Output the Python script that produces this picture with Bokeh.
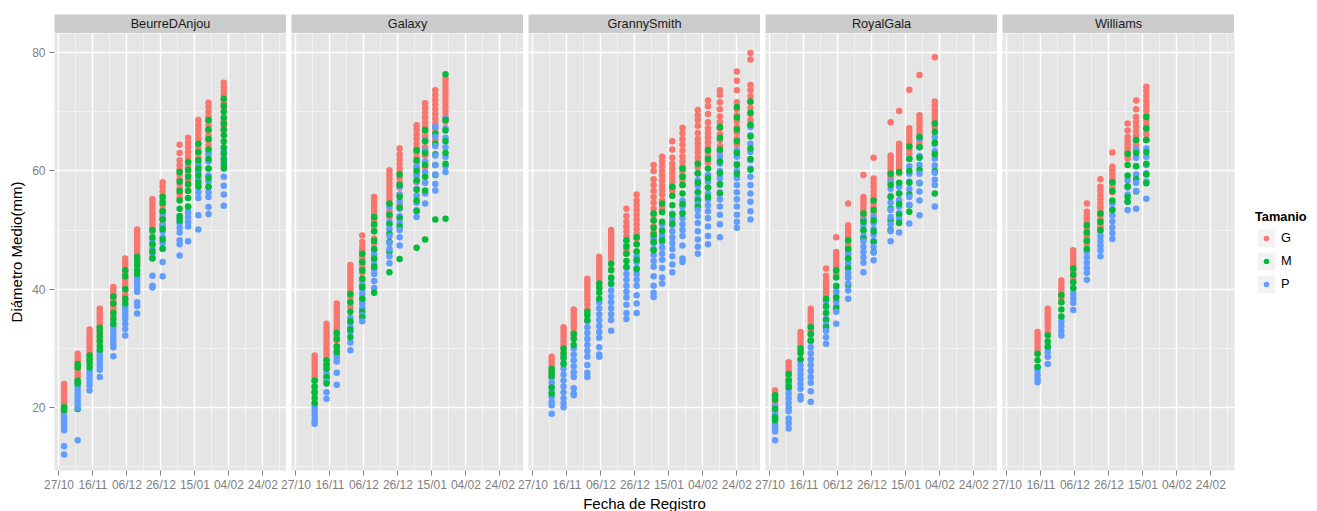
import pandas as pd
from bokeh.plotting import figure
from bokeh.layouts import row, column
from bokeh.models import (Range1d, FixedTicker, DatetimeTickFormatter, Legend,
                          LegendItem, Label, ColumnDataSource)
from bokeh.core.properties import field
from bokeh.embed import file_html
from bokeh.resources import INLINE

# ---------------- data ----------------
VARIETIES = ["BeurreDAnjou", "Galaxy", "GrannySmith", "RoyalGala", "Williams"]
SIZES = ["G", "M", "P"]
COLORS = {"G": "#F8766D", "M": "#00BA38", "P": "#619CFF"}

TICK_DATES = ["2012-10-27", "2012-11-16", "2012-12-06", "2012-12-26",
              "2013-01-15", "2013-02-04", "2013-02-24"]
MINOR_DATES = ["2012-11-06", "2012-11-26", "2012-12-16", "2013-01-05",
               "2013-01-25", "2013-02-14", "2013-03-06"]
X_LIMITS = ["2012-10-24 08:40", "2013-03-09 21:30"]
Y_TICKS = [20, 40, 60, 80]
Y_MINOR = [10, 30, 50, 70]
Y_LIMITS = [9.4, 83.2]

DATES_BEURRE = ["2012-10-30", "2012-11-07", "2012-11-14", "2012-11-20", "2012-11-28",
                "2012-12-05", "2012-12-12", "2012-12-21", "2012-12-27", "2013-01-06",
                "2013-01-11", "2013-01-17", "2013-01-23", "2013-02-01"]
G_BEURRE = [
    [24, 23.3, 22.8, 22.2, 21.6, 21, 20.4, 19.2],
    [29.1, 28.4, 27.8, 27.1, 26.5, 25.9, 25.3, 24.6],
    [33.2, 32.6, 32, 31.4, 30.8, 30.2, 29.6, 29, 28],
    [36.7, 36.1, 35.5, 34.9, 34.3, 33.7, 33.1, 32.3, 31.5],
    [40.4, 39.8, 39.2, 38.6, 38, 37.4, 36.8, 36.2, 35.4],
    [45.2, 44.6, 44, 43.4, 42.8, 42.2, 41.6, 41, 40.4, 39.8, 39, 38.2],
    [50.1, 49.5, 48.9, 48.3, 47.7, 47.1, 46.5, 45.9, 45.3, 44.3],
    [55.2, 54.6, 54, 53.4, 52.8, 52.2, 51.6, 51, 50.4, 49.7],
    [58.1, 57.4, 56.6, 55.8, 55, 54.2, 53.4, 52.2, 51, 50.5],
    [64.4, 63, 61.8, 61, 60.2, 59.4, 58.6, 57.8, 57, 56.2, 55.4],
    [65.6, 64.8, 64, 63.2, 62.4, 61.6, 60.8, 60, 59.2, 58.4, 57.6, 56.7],
    [68.6, 67.8, 67, 66.2, 65.4, 64.6, 63.8, 63, 62.2, 61.4, 60.6, 59.8, 58.4],
    [71.5, 70.8, 70, 69.2, 68.4, 67.6, 66.8, 66, 65.2, 64.4, 63.6, 62.9],
    [74.9, 74.2, 73.5, 72.8, 72.1, 71.4, 70.7, 68.4, 67.6, 66.9],
]
M_BEURRE = [
    [20.1, 19.6, 19.9],
    [27.4, 26.8, 24.6, 24.1, 19.8],
    [28.8, 28.2, 27.5, 26.8],
    [33.5, 32.8, 32, 31.2, 30.4, 29.8],
    [38.8, 37.6, 36, 35, 34.2],
    [43.2, 42.2, 40, 38.4, 37.6],
    [45.5, 44.8, 44, 43.2, 42.6],
    [50, 48.8, 47.6, 46.4, 45.2],
    [55.6, 54.6, 53.2, 51.8, 50.2, 48.4, 46.9],
    [59.8, 58.2, 56.6, 55, 53.6, 52.4, 51.6],
    [61.5, 60.2, 59, 57.8, 56.6, 55.4, 54],
    [64.6, 63.2, 61.8, 60.4, 59.2, 58, 57.3],
    [68.6, 67, 65.4, 63.6, 62, 60.4, 58.8, 57.3],
    [72.2, 71, 70, 69, 68, 67, 66, 65, 64, 63, 62, 61, 60.4],
]
P_BEURRE = [
    [18.6, 18, 17.4, 16.8, 16.2, 13.5, 12.1],
    [24.2, 23.6, 23, 22.4, 21.8, 21.2, 20.6, 20, 14.5],
    [26.2, 25.6, 25, 24.4, 23.8, 22.9],
    [29.4, 28.8, 28.2, 27.6, 27, 26.4, 25.2],
    [33.8, 33.2, 32.6, 32, 31.4, 30.8, 30.2, 28.7],
    [37.4, 36.8, 36.2, 35.6, 35, 34.2, 33.3, 32.2],
    [42, 41.4, 40.8, 40.2, 39.6, 37.8, 37.2, 35.9],
    [48.4, 47.6, 46.8, 46, 45.3, 42.3, 40.6, 40.3],
    [52.8, 51.8, 50.8, 49.8, 48.8, 47.8, 46.8, 44.6, 42.2],
    [52, 51.2, 50.4, 49.6, 48.3, 47.6, 45.7],
    [53.8, 53, 52.2, 51.4, 50.6, 48.1],
    [61, 59.8, 58.6, 57.4, 56.4, 55.4, 52.5, 50.1],
    [62.8, 61.6, 60.4, 59.2, 58.2, 57.2, 56.4, 55.6, 53.9, 52.7],
    [63.6, 62.8, 62, 61.4, 59, 57.5, 56, 54.1],
]

DATES_GALAXY = ["2012-11-07", "2012-11-14", "2012-11-20", "2012-11-28", "2012-12-05",
                "2012-12-12", "2012-12-21", "2012-12-27", "2013-01-06", "2013-01-11",
                "2013-01-17", "2013-01-23"]
G_GALAXY = [
    [28.8, 28.2, 27.6, 27, 26.4, 25.8, 25.2, 24.5, 23.5, 22.8, 22.4],
    [34.2, 33.6, 33, 32.4, 31.8, 31.2, 30.6, 30, 29.4, 28.8, 28.2],
    [37.6, 37, 36.4, 35.8, 35.2, 34.6, 34, 33.4, 32.8, 32.2, 31.4],
    [44.1, 43.5, 42.9, 42.3, 41.7, 41.1, 40.5, 39.9, 39.3, 38.6, 37.8, 37],
    [49.1, 48, 47.2, 46.6, 46, 45.4, 44.8, 44.2, 43.6, 42.8],
    [55.6, 55, 54.4, 53.8, 53.2, 52.6, 52, 51.4, 50.6, 49.8, 48.6, 47.7],
    [60.1, 59.4, 58.7, 58, 57.3, 56.6, 55.9, 55.2, 54.5, 53.2, 52.2],
    [63.8, 62.8, 62, 61.2, 60.4, 59.6, 58.8, 58, 57.2, 56, 54.2],
    [67.7, 67, 66.2, 65.4, 64.6, 63.8, 63, 62.2, 61.4, 60.4, 59.2, 58.1],
    [71.4, 70.6, 69.8, 69, 68.2, 67.4, 66.6, 65.8, 65, 64, 62.6, 60.7],
    [73.6, 72.8, 72, 71.2, 70.4, 69.6, 68.8, 68, 67.2, 66.4, 65.2],
    [75.6, 74.9, 74.2, 73.5, 72.8, 72.1, 71.4, 70.7, 70, 69.2, 68.3],
]
M_GALAXY = [
    [24.6, 23.6, 22.6, 21.6, 20.8],
    [28, 27.3, 26.6, 25.2, 24.1],
    [32.6, 31.6, 30.4, 29.4],
    [39.2, 37.8, 36.2, 34.6, 33.2, 31.9],
    [46, 44.6, 43.2, 41.8, 40.4, 38.4, 36.2, 35.3],
    [52.2, 51, 49.8, 48.2, 46.8, 45.2, 43.8, 39.4],
    [54.5, 52.6, 51, 49.4, 48, 46.4, 42.9],
    [59.4, 57.6, 55.6, 53.8, 52, 50.6, 45.1],
    [63.5, 61.8, 60, 58.4, 56.8, 55, 53.2, 47],
    [66.9, 65, 63, 61, 59, 56.7, 48.4],
    [66.3, 64.6, 62.8, 61, 59.3, 51.8],
    [76.3, 68.6, 66.8, 65, 63, 61.2, 51.9],
]
P_GALAXY = [
    [20.6, 20, 19.4, 18.8, 18.2, 17.6, 17.3],
    [27.3, 26.6, 25.8, 25, 24.4, 22.6, 21.5],
    [30.2, 29.6, 29, 28.4, 27.8, 25.9, 23.9],
    [35.2, 34.4, 33.6, 32.8, 31, 29.7],
    [41.6, 40.8, 40, 39.2, 38.4, 37.6, 36.8, 35.6, 34.6],
    [46.6, 45.8, 45, 44.2, 43.4, 42.6, 41.4, 40.2],
    [53.9, 52.6, 51.4, 50.2, 49, 47.8, 46.8, 45.6, 44.4],
    [57.3, 56, 54.8, 53.6, 52.4, 51.2, 50, 48.8, 47.4],
    [60.7, 59.4, 58.2, 57, 55.8, 54.6, 53.4, 52.2],
    [65.2, 63.4, 61.6, 59.8, 58, 56.2, 54.5],
    [67.4, 65.8, 64.2, 62.6, 61, 59.4, 57.8, 56.7],
    [68.8, 67.2, 65.6, 64, 62.4, 60.8, 59.8],
]

DATES_GRANNY = ["2012-11-07", "2012-11-14", "2012-11-20", "2012-11-28", "2012-12-05",
                "2012-12-12", "2012-12-21", "2012-12-27", "2013-01-06", "2013-01-11",
                "2013-01-17", "2013-01-23", "2013-02-01", "2013-02-07", "2013-02-14",
                "2013-02-24", "2013-03-04"]
G_GRANNY = [
    [28.6, 28, 27.4, 26.8, 26.2, 25.4],
    [33.6, 33, 32.4, 31.8, 31.2, 30.6, 30, 29.2],
    [36.6, 36, 35.4, 34.8, 34.2, 33.6, 32.8, 32],
    [41.8, 41.2, 40.6, 40, 39.4, 38.8, 38.2, 37.4, 36.6],
    [45.5, 44.9, 44.3, 43.7, 43.1, 42.5, 41.9, 41.2, 40.4],
    [50, 49.4, 48.8, 48.2, 47.6, 47, 46.4, 45.8, 45.2, 44.4, 43.4],
    [53.6, 52.4, 51.4, 50.6, 49.8, 49, 48.2, 47.4, 46.6, 46],
    [56, 55, 54.2, 53.4, 52.6, 51.8, 51, 50.2, 49.4, 48.6, 47.6, 46.4],
    [61, 60, 58.6, 57.6, 56.6, 55.6, 54.6, 53.6, 52.6, 51.6, 50.6, 49.6, 48.4],
    [62.4, 61.6, 60.8, 60, 59.2, 58.4, 57.6, 56.8, 56, 55, 54, 53.4],
    [65, 63.6, 62.2, 61.2, 60.4, 59.6, 58.8, 58, 57.2, 56.7],
    [67.3, 66.4, 65.4, 64.4, 63.4, 62.4, 61.6, 60.8, 60, 59.2, 58.4, 57.6],
    [70.3, 69.4, 68.6, 67.6, 66.4, 65.4, 64.6, 63.8, 63, 62.2, 61.4, 60.6, 59.6],
    [71.9, 70.9, 69.6, 68.2, 67.2, 66.4, 65.6, 64.8, 64, 63.2, 62.4, 61.4],
    [73.6, 72.8, 71.6, 70.4, 69.2, 68.2, 67.2, 66.2, 65.2, 64.2, 63],
    [76.8, 75.2, 73.6, 71.6, 70.4, 69.4, 68.4, 67.4, 66.4, 65.4, 64.4, 63.2],
    [79.9, 78.8, 74.5, 73.6, 72.6, 71.6, 70.6, 69.6, 68.6, 67.6],
]
M_GRANNY = [
    [26.6, 26, 25.4, 23.4, 22.4],
    [30, 29.2, 28.4, 27.4],
    [32.5, 31.6, 30.6],
    [36.2, 35.6, 34.8],
    [41, 40.2, 39.4, 38.4],
    [44.3, 43.2, 42, 41],
    [48.3, 47.2, 46, 44.8, 43.8],
    [48.8, 47.6, 46.4, 45, 43.4],
    [52.8, 51.6, 50.4, 49.2, 48, 46.6],
    [54.5, 53, 51.4, 49.8, 48.3],
    [57.3, 55.8, 54.2, 52.6, 51.1],
    [60.4, 59, 57.6, 56.2, 54.4, 52.8],
    [61.2, 59.6, 58, 56.4, 55, 53.9],
    [63.5, 62, 60.4, 58.8, 57.2, 55.6],
    [67.4, 65.6, 63.6, 61.6, 59.6, 57.8, 56.2],
    [70.8, 69, 67, 65, 63, 61, 59.5],
    [71.7, 69.8, 67.8, 65.8, 63.8, 62, 60.2],
]
P_GRANNY = [
    [25, 24.2, 23.4, 22.6, 21.8, 21, 20.4, 19],
    [28.6, 27.6, 26.6, 25.6, 24.6, 23.6, 22.6, 21.6, 20.8, 20.1],
    [30, 29, 28, 27, 26, 25.2, 23.3, 22.4, 22.1],
    [34.6, 33.6, 32.6, 31.6, 30.6, 29.6, 28.6, 27.2, 25.9, 25.2],
    [37.8, 36.8, 35.8, 34.8, 33.8, 32.8, 31.8, 30.2, 29, 28.6],
    [41.8, 40.8, 39.8, 38.8, 37.8, 36.8, 35.8, 34.8, 33],
    [43.6, 42.6, 41.6, 40.6, 39.6, 38.6, 37.4, 36, 35],
    [45.6, 44.6, 43.6, 42.6, 41.6, 40.6, 39, 37.6, 36],
    [48.8, 47.8, 46.8, 45.8, 44.8, 43.8, 42.2, 40.6, 39.4, 38.7],
    [51, 50, 49, 48, 47, 46, 45, 43.6, 42, 41],
    [52.8, 51.8, 50.8, 49.8, 48.8, 47.8, 46.8, 45.6, 44.2, 42.9],
    [55, 54, 53, 52, 51, 50, 49, 47.4, 45.2, 44.6],
    [59.5, 58.4, 57.4, 56.4, 55.4, 54.4, 53.4, 52.4, 51.2, 49.8, 48.4, 47.2, 46],
    [59.3, 58.2, 57.2, 56.2, 55.2, 54.2, 53.2, 52, 50.6, 49, 47.6],
    [63.5, 62.4, 61.2, 60, 58.8, 57.6, 56.4, 55.2, 54, 52.6, 51, 48.8],
    [63.5, 62.4, 61.2, 60, 58.8, 57.6, 56.4, 55.2, 54, 52.6, 51.4, 50.4],
    [67.4, 66, 64.6, 63.2, 61.8, 60.4, 59, 57.6, 56.2, 54.8, 53.2, 51.8],
]

DATES_ROYAL = ["2012-10-30", "2012-11-07", "2012-11-14", "2012-11-20", "2012-11-29",
               "2012-12-05", "2012-12-12", "2012-12-21", "2012-12-27", "2013-01-06",
               "2013-01-11", "2013-01-17", "2013-01-23", "2013-02-01"]
G_ROYAL = [
    [22.9, 22.3, 21.7, 21.1, 20.5, 20],
    [27.7, 27.1, 26.5, 25.9, 25.3, 24.7, 24.1],
    [32.8, 32.2, 31.6, 31, 30.4, 29.6],
    [36.7, 36.1, 35.5, 34.9, 34.3, 33.7, 33.1, 32.5],
    [43.5, 42.3, 41.5, 40.9, 40.3, 39.7, 39.1, 38.4],
    [48.8, 46.3, 45.7, 45.1, 44.5, 43.9, 43.3, 42.6],
    [54.5, 50.8, 50.2, 49.6, 49, 48.4, 47.8, 47.2, 46.6, 46],
    [59.3, 55.6, 55, 54.4, 53.8, 53.2, 52.4, 51.7],
    [62.2, 58.7, 58, 57.3, 56.6, 55.9, 55.2, 54.5, 53.8, 52.9],
    [68.2, 62.6, 62, 61.4, 60.8, 60.2, 59.6, 59, 58.4],
    [70.1, 64.6, 64, 63.4, 62.8, 62.2, 61.6, 61, 60.4, 59.6],
    [73.7, 67.2, 66.6, 66, 65.4, 64.8, 64.2, 63.6, 62.9],
    [76.2, 69.4, 68.8, 68.2, 67.6, 67, 66.4, 65.8, 65.2, 64.6, 64.1],
    [79.2, 71.7, 71, 70.3, 69.6, 68.9, 68.2, 67.4],
]
M_ROYAL = [
    [22.1, 21.4, 19.8, 18.4, 17.9],
    [25.7, 24.6, 23.5],
    [30, 29.2, 28.2],
    [33.6, 32.4, 31.4],
    [38.4, 37.2, 36, 34.8, 33.6],
    [43.2, 42, 40.6, 38.6, 36.8],
    [48.3, 46.8, 45.2, 43.6, 42, 40.7],
    [52.8, 51.4, 50, 48.6],
    [55, 53.4, 51.6, 49.8, 48, 46.3],
    [59.5, 57.6, 55.6, 53.6, 51.6, 50],
    [59.8, 58, 56.2, 54.4, 52.6, 51.2],
    [64.1, 62, 60, 58, 56, 54.2, 53.1],
    [65.7, 64, 62.2, 60.2, 57.9],
    [68, 66.6, 64.8, 62.8, 60, 56.2],
]
P_ROYAL = [
    [20.3, 19.6, 18.8, 18, 17.2, 16.6, 16, 14.5],
    [24, 23.2, 22.4, 21.6, 20.8, 20, 19.4, 18.2, 17.4, 16.5],
    [28, 27.2, 26.4, 25.6, 24.8, 24, 23.2, 22, 21.4],
    [31.2, 30.2, 29.2, 28.2, 27.2, 26.2, 25.2, 24.2, 22.8, 21],
    [38, 37, 36, 35, 34, 33, 31.9, 30.8],
    [40.4, 39.6, 38.8, 38, 37.2, 36.2, 34.2],
    [46, 45.2, 44.4, 43.6, 42.8, 42, 41, 39.8, 38.4],
    [51.7, 50.8, 49.9, 49, 48.1, 47.2, 46.3, 45.4, 44.5, 42.9],
    [52.2, 51.2, 50.2, 49.2, 48.2, 47.2, 46.2, 44.9],
    [58.2, 57, 55.8, 54.6, 53.4, 52.2, 51, 49.8, 48.1],
    [57.3, 56.2, 55.1, 54, 52.9, 51.8, 49.6],
    [62.1, 60.8, 59.5, 58.2, 56.9, 55.6, 54.3, 51.1],
    [65.5, 64, 62.5, 61, 59.5, 58, 56.5, 55, 52.5],
    [65.7, 64.5, 63.3, 62.1, 60.9, 59.7, 58.5, 57.6, 54],
]

DATES_WILLIAMS = ["2012-11-14", "2012-11-20", "2012-11-28", "2012-12-05", "2012-12-13",
                  "2012-12-21", "2012-12-28", "2013-01-06", "2013-01-11", "2013-01-17"]
G_WILLIAMS = [
    [32.8, 32.2, 31.6, 31, 30.4, 29.8, 29.1],
    [36.7, 36.1, 35.5, 34.9, 34.3, 33.6, 32.8],
    [41.5, 40.9, 40.3, 39.7, 39.1, 38.5, 37.8],
    [46.6, 46, 45.4, 44.8, 44.2, 43.6, 43, 42.4, 41.6],
    [54.5, 53.1, 52.5, 51.9, 51.3, 50.7, 50.1, 49.5, 48.9, 48.3, 47.7],
    [58.6, 57.3, 56.6, 55.9, 55.2, 54.5, 53.8, 53.1, 52.4, 51.7, 51, 50.5],
    [63.1, 60.7, 60.1, 59.5, 58.9, 58.3, 57.7, 57.1, 56.4],
    [68, 66.8, 65.7, 65.1, 64.5, 63.9, 63.3, 62.7, 62.1],
    [71.9, 70.4, 69.1, 68.3, 67.5, 66.7, 65.9, 65.1, 64.3, 63.5],
    [74.2, 73.4, 72.6, 71.8, 71, 70.2, 69.4, 68.6, 67.8, 67, 66.2, 65.2],
]
M_WILLIAMS = [
    [29.1, 28, 26.9],
    [32.2, 31.2, 30.3],
    [39, 37.8, 36.6, 35.4],
    [43.5, 42.4, 41.2, 40.2],
    [50.8, 49.6, 48.2, 46.8],
    [52.8, 51.4, 50],
    [58.1, 56.6, 55, 53.4],
    [62.9, 61, 59.2, 57.4, 55.6, 54.8],
    [65.2, 63, 60.8, 58.6, 56.5],
    [69.1, 67.2, 65.2, 63.2, 61.2, 59.4, 57.9],
]
P_WILLIAMS = [
    [26.9, 26.2, 25.5, 24.8, 24.3],
    [30.2, 29.4, 28.6, 27.4],
    [35.3, 34.5, 33.7, 32.9, 32.2],
    [40.1, 39.3, 38.5, 37.7, 36.5],
    [46.3, 45.4, 44.5, 43.6, 42.8, 41.6],
    [49.8, 49, 48.2, 47.4, 46.6, 45.6],
    [54.5, 53.5, 52.5, 51.5, 50.5, 49.5, 48.5],
    [58.4, 57.2, 56, 54.8, 53.4],
    [63.6, 62.2, 60.8, 59.4, 58, 56.6, 53.6],
    [65.2, 63.8, 62.4, 61, 59.6, 58.2, 55.3],
]

PANELS = [
    (DATES_BEURRE, G_BEURRE, M_BEURRE, P_BEURRE),
    (DATES_GALAXY, G_GALAXY, M_GALAXY, P_GALAXY),
    (DATES_GRANNY, G_GRANNY, M_GRANNY, P_GRANNY),
    (DATES_ROYAL, G_ROYAL, M_ROYAL, P_ROYAL),
    (DATES_WILLIAMS, G_WILLIAMS, M_WILLIAMS, P_WILLIAMS),
]

# ---------------- styling ----------------
FONT = "Liberation Sans"
PANEL_BG = "#E5E5E5"
STRIP_BG = "#CCCCCC"
MINOR_GRID = "#F2F2F2"
AXIS_GREY = "#7F7F7F"
FRAME_W, FRAME_H = 232, 437
LEFT_FIRST, LEFT_OTHER, OVERLAP = 54, 16, -11


def ms(s):
    return pd.Timestamp(s).value / 1e6


x_ticker = FixedTicker(ticks=[ms(t) for t in TICK_DATES],
                       minor_ticks=[ms(t) for t in MINOR_DATES])
y_ticker = FixedTicker(ticks=Y_TICKS, minor_ticks=Y_MINOR)
x_fmt = DatetimeTickFormatter(days="%d/%m", months="%d/%m", years="%d/%m",
                              hours="%d/%m", minutes="%d/%m", seconds="%d/%m",
                              milliseconds="%d/%m", microseconds="%d/%m", minsec="%d/%m",
                              hourmin="%d/%m")


def class_points(dates, lists):
    xs, ys = [], []
    for d, lst in zip(dates, lists):
        for v in lst:
            xs.append(pd.Timestamp(d)); ys.append(v)
    return xs, ys


def build_source(dates, g, m, p):
    # large-size points first, then small and medium interleaved on top
    xs, ys, cs = [], [], []
    gx, gy = class_points(dates, g)
    xs += gx; ys += gy; cs += [COLORS["G"]] * len(gx)
    for d, ml, pl in zip(dates, m, p):
        n = max(len(ml), len(pl))
        for i in range(n):
            for lst, key in ((pl, "P"), (ml, "M")):
                if i < len(lst):
                    xs.append(pd.Timestamp(d)); ys.append(lst[i]); cs.append(COLORS[key])
    return ColumnDataSource(dict(x=xs, y=ys, c=cs))


def style_axis(ax):
    ax.axis_line_color = None
    ax.major_tick_line_color = AXIS_GREY
    ax.major_tick_line_width = 1
    ax.major_tick_in = 0
    ax.major_tick_out = 5
    ax.minor_tick_line_color = None
    ax.major_label_text_color = AXIS_GREY
    ax.major_label_text_font = FONT
    ax.major_label_text_font_size = "12px"
    ax.axis_label_text_font = FONT
    ax.axis_label_text_font_size = "15px"
    ax.axis_label_text_font_style = "normal"
    ax.axis_label_text_color = "#000000"


cols = []
for k, (name, (dates, g, m, p)) in enumerate(zip(VARIETIES, PANELS)):
    left = LEFT_FIRST if k == 0 else LEFT_OTHER

    strip = figure(frame_width=FRAME_W, frame_height=19, x_range=Range1d(0, 1),
                   y_range=Range1d(0, 1), output_backend="svg", toolbar_location=None,
                   title=None, x_axis_location=None, y_axis_location=None,
                   min_border_left=left, min_border_right=0, min_border_top=14,
                   min_border_bottom=0, background_fill_color=STRIP_BG,
                   outline_line_color=None)
    strip.grid.visible = False
    if k > 0:
        strip.border_fill_alpha = 0
    strip.add_layout(Label(x=0.5, y=0.5, text=name, text_align="center",
                           text_baseline="middle", text_font=FONT,
                           text_font_size="12.7px", text_color="#1A1A1A"))

    fig = figure(frame_width=FRAME_W, frame_height=FRAME_H, x_axis_type="datetime",
                 x_range=Range1d(ms(X_LIMITS[0]), ms(X_LIMITS[1])),
                 y_range=Range1d(Y_LIMITS[0], Y_LIMITS[1]),
                 output_backend="svg", toolbar_location=None, title=None,
                 min_border_left=left, min_border_right=0, min_border_top=0,
                 min_border_bottom=0, background_fill_color=PANEL_BG,
                 outline_line_color=None)
    if k > 0:
        fig.border_fill_alpha = 0

    xa = fig.xaxis[0]
    ya = fig.yaxis[0]
    style_axis(xa)
    style_axis(ya)
    xa.ticker = x_ticker
    xa.formatter = x_fmt
    xa.major_label_standoff = 2
    ya.ticker = y_ticker
    ya.major_label_standoff = 4
    if k == 0:
        ya.axis_label = "Diámetro Medio(mm)"
        ya.axis_label_standoff = 4
    else:
        ya.visible = False
    if k == 2:
        xa.axis_label = "Fecha de Registro"
        xa.axis_label_standoff = 0

    fig.xgrid.ticker = x_ticker
    fig.ygrid.ticker = y_ticker
    for gr in (fig.xgrid[0], fig.ygrid[0]):
        gr.grid_line_color = "white"
        gr.grid_line_width = 1.5
        gr.minor_grid_line_color = MINOR_GRID
        gr.minor_grid_line_width = 1

    src = build_source(dates, g, m, p)
    fig.scatter("x", "y", source=src, size=6.5, fill_color=field("c"),
                line_color=None)

    if k == len(VARIETIES) - 1:
        items = []
        for s, lists in zip(SIZES, (g, m, p)):
            lx, ly = class_points(dates, lists)
            lsrc = ColumnDataSource(dict(x=lx, y=ly))
            r_bg = fig.rect("x", "y", source=lsrc, width=1, height=1,
                            fill_color=MINOR_GRID, line_color=None, visible=False)
            r_dot = fig.scatter("x", "y", source=lsrc, size=6, fill_color=COLORS[s],
                                line_color=MINOR_GRID, line_width=3.2, visible=False)
            items.append(LegendItem(label=s, renderers=[r_bg, r_dot]))
        legend = Legend(items=items, title="Tamanio", location="center_left",
                        orientation="vertical", glyph_width=22, glyph_height=22,
                        label_height=22, spacing=1, padding=10, margin=21,
                        border_line_color=None, background_fill_color="white",
                        inactive_fill_alpha=0,
                        label_standoff=4, title_standoff=3,
                        label_text_font=FONT, label_text_font_size="12.8px",
                        label_text_color="#000000",
                        title_text_font=FONT, title_text_font_size="12.8px",
                        title_text_font_style="bold", title_text_color="#000000")
        fig.add_layout(legend, "right")

    if k == 0:
        cols.append(column(strip, fig))
    else:
        cols.append(column(strip, fig, margin=(0, 0, 0, OVERLAP)))

layout = row(*cols)
open("out.html", "w").write(file_html(layout, INLINE))
